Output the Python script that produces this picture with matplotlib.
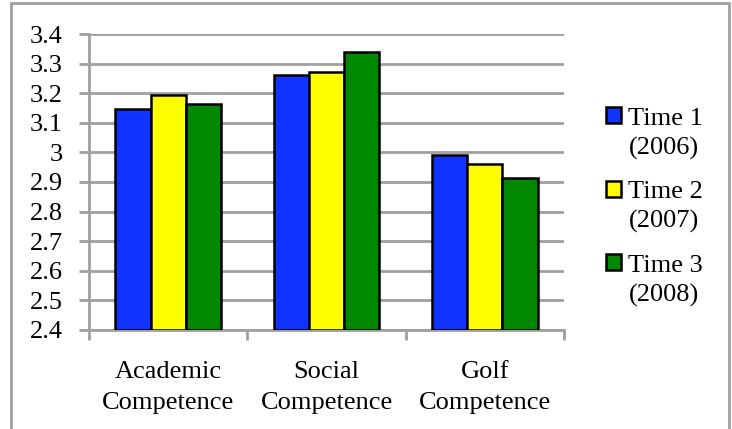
import matplotlib.pyplot as plt
import numpy as np
from matplotlib.patches import Rectangle
from matplotlib.container import BarContainer
from matplotlib.legend_handler import HandlerPatch

categories = ["Academic\nCompetence", "Social\nCompetence", "Golf\nCompetence"]
series_names = ["Time 1\n(2006)", "Time 2\n(2007)", "Time 3\n(2008)"]
time1 = [3.146, 3.262, 2.990]
time2 = [3.193, 3.270, 2.960]
time3 = [3.164, 3.339, 2.915]
colors = ["#1133ff", "#ffff00", "#008800"]
yticks = [2.4, 2.5, 2.6, 2.7, 2.8, 2.9, 3.0, 3.1, 3.2, 3.3, 3.4]
ytick_labels = ["2.4", "2.5", "2.6", "2.7", "2.8", "2.9", "3", "3.1", "3.2", "3.3", "3.4"]

plt.rcParams['font.family'] = ['Liberation Serif', 'DejaVu Serif']
grey = "#a0a0a0"
fs = 19


def top_square(legend, orig_handle, xdescent, ydescent, width, height, fontsize):
    # square sits beside the first line of a two-line label
    return Rectangle((-xdescent, -ydescent + 0.68 * fontsize), width, height)


def copy_style(legend_handle, orig_handle):
    bar = orig_handle[0]
    legend_handle.set_facecolor(bar.get_facecolor())
    legend_handle.set_edgecolor(bar.get_edgecolor())
    legend_handle.set_linewidth(bar.get_linewidth())


fig = plt.figure(figsize=(7.32, 4.29), dpi=100)
ax = fig.add_axes([89 / 732, 1 - 330 / 429, 475 / 732, 296 / 429])

ind = np.arange(len(categories))
width = 1 / 4.5
for k, vals in enumerate([time1, time2, time3]):
    ax.bar(ind + (k - 1) * width, np.array(vals) - 2.4, width, bottom=2.4,
           color=colors[k], edgecolor="black", linewidth=1.8,
           label=series_names[k], zorder=3)

ax.set_ylim(2.4, 3.4)
ax.set_xlim(-0.5, 2.5)
ax.set_yticks(yticks)
ax.set_yticklabels(ytick_labels, fontsize=fs)
ax.yaxis.grid(True, color=grey, linewidth=2, zorder=0)
ax.tick_params(axis="y", length=7, width=2, color=grey, pad=12)

# category labels between the boundary ticks
ax.set_xticks([-0.5, 0.5, 1.5, 2.5])
ax.set_xticklabels([])
ax.set_xticks(ind, minor=True)
ax.set_xticklabels(categories, minor=True, fontsize=fs, linespacing=1.55)
ax.tick_params(axis="x", which="major", length=7, width=2, color=grey)
ax.tick_params(axis="x", which="minor", length=0, pad=22)

for s in ["top", "right"]:
    ax.spines[s].set_visible(False)
for s in ["left", "bottom"]:
    ax.spines[s].set_color(grey)
    ax.spines[s].set_linewidth(2)

leg = ax.legend(loc="upper left", bbox_to_anchor=(606 / 732, 1 - 108 / 429),
                bbox_transform=fig.transFigure, frameon=False, fontsize=fs,
                handlelength=0.55, handleheight=0.55, handletextpad=0.3,
                labelspacing=0.8, borderaxespad=0, borderpad=0,
                handler_map={BarContainer: HandlerPatch(patch_func=top_square,
                                                        update_func=copy_style)})
for t in leg.get_texts():
    t.set_linespacing(1.4)

fig.patches.append(Rectangle((11 / 732, -0.05), 718 / 732, 1.05 - 3 / 429,
                             transform=fig.transFigure, fill=False,
                             edgecolor=grey, linewidth=2))

fig.savefig("out.png", dpi=100)
